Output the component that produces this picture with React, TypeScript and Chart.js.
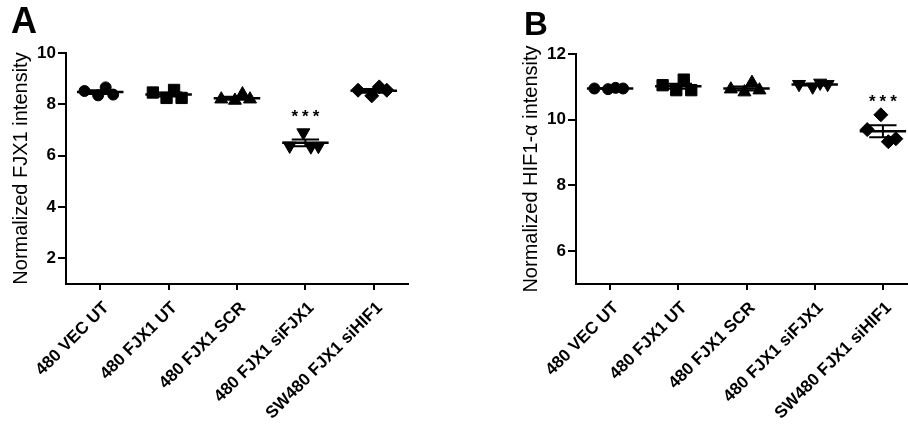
import React, { useEffect, useRef } from 'react';
import { Chart, registerables } from 'chart.js';

Chart.register(...registerables);

// ---- categories / tick labels ----
const categories = ['480 VEC UT', '480 FJX1 UT', '480 FJX1 SCR', '480 FJX1 siFJX1', 'SW480 FJX1 siHIF1'];
const yTicksA = [2, 4, 6, 8, 10];
const yTicksB = [6, 8, 10, 12];

// ---- Panel A: Normalized FJX1 intensity ----
const fjx1VecUT = [8.52, 8.35, 8.66, 8.38];
const fjx1FjxUT = [8.46, 8.25, 8.56, 8.25];
const fjx1FjxSCR = [8.2, 8.15, 8.4, 8.2];
const fjx1SiFJX1 = [6.38, 6.9, 6.35, 6.37];
const fjx1SiHIF1 = [8.55, 8.33, 8.68, 8.55];

// ---- Panel B: Normalized HIF1-α intensity ----
const hifVecUT = [10.95, 10.93, 10.97, 10.95];
const hifFjxUT = [11.05, 10.9, 11.22, 10.9];
const hifFjxSCR = [10.93, 10.84, 11.13, 10.9];
const hifSiFJX1 = [11.08, 11.0, 11.12, 11.08];
const hifSiHIF1 = [9.7, 10.15, 9.33, 9.42];

// significance marks
const sigA = { group: 3, y: 7.7, text: '***' };
const sigB = { group: 4, y: 10.69, text: '***' };

// scatter spread (per-replicate horizontal offsets, in category units)
const jitter = [-0.23, -0.03, 0.08, 0.19];

const FONT = "'Liberation Sans', Arial, Helvetica, sans-serif";
const markerStyles = ['circle', 'rect', 'triangle', 'triangle', 'rectRot'];
const markerRotation = [0, 0, 0, 180, 0];
const markerRadius = [5.5, 8, 7.5, 7.5, 7];

function mean(a: number[]) {
  return a.reduce((s, v) => s + v, 0) / a.length;
}
function sem(a: number[]) {
  const m = mean(a);
  const v = a.reduce((s, x) => s + (x - m) * (x - m), 0) / (a.length - 1);
  return Math.sqrt(v) / Math.sqrt(a.length);
}

function buildDatasets(groups: number[][]) {
  const ds: any[] = [];
  groups.forEach((vals, i) => {
    const m = mean(vals);
    const s = sem(vals);
    ds.push({
      data: vals.map((v, j) => ({ x: i + jitter[j], y: v })),
      pointStyle: markerStyles[i],
      rotation: markerRotation[i],
      pointRadius: markerRadius[i],
      backgroundColor: '#000',
      borderColor: '#000',
      borderWidth: 1,
      showLine: false,
    });
    ds.push({
      data: [
        { x: i - 0.34, y: m },
        { x: i + 0.34, y: m },
      ],
      showLine: true,
      borderColor: '#000',
      borderWidth: 2.5,
      pointRadius: 0,
    });
    ds.push({
      data: [
        { x: i - 0.2, y: m + s },
        { x: i + 0.2, y: m + s },
        { x: i, y: null },
        { x: i, y: m + s },
        { x: i, y: m - s },
        { x: i, y: null },
        { x: i - 0.2, y: m - s },
        { x: i + 0.2, y: m - s },
      ],
      showLine: true,
      spanGaps: false,
      borderColor: '#000',
      borderWidth: 2,
      pointRadius: 0,
    });
  });
  return ds;
}

const sigPlugin = {
  id: 'sigText',
  afterDatasetsDraw(chart: any, _args: any, opts: any) {
    if (!opts || !opts.text) return;
    const { ctx, scales } = chart;
    const x = scales.x.getPixelForValue(opts.group);
    const y = scales.y.getPixelForValue(opts.y);
    ctx.save();
    ctx.fillStyle = '#000';
    ctx.font = `bold 17px ${FONT}`;
    ctx.textAlign = 'center';
    ctx.textBaseline = 'alphabetic';
    try {
      ctx.letterSpacing = '4px';
    } catch (e) {
      /* ignore */
    }
    ctx.fillText(opts.text, x + 2, y + 10);
    ctx.restore();
  },
};

function makeConfig(groups: number[][], yMin: number, yMax: number, yTicks: number[], title: string, sig: any, padding: any) {
  return {
    type: 'scatter' as const,
    data: { datasets: buildDatasets(groups) },
    plugins: [sigPlugin],
    options: {
      animation: false,
      responsive: false,
      devicePixelRatio: 1,
      layout: { padding },
      plugins: {
        legend: { display: false },
        tooltip: { enabled: false },
        sigText: sig,
      },
      scales: {
        x: {
          type: 'linear',
          min: -0.5,
          max: 4.5,
          afterBuildTicks: (s: any) => {
            s.ticks = categories.map((_, i) => ({ value: i }));
          },
          afterFit: (s: any) => {
            s.height = 143;
            s.paddingLeft = 0;
            s.paddingRight = 0;
          },
          ticks: {
            color: '#000',
            font: { family: FONT, size: 17, weight: 'bold' },
            minRotation: 45,
            maxRotation: 45,
            autoSkip: false,
            padding: 8,
            labelOffset: 6,
            callback: (v: any) => categories[Math.round(v)] ?? '',
          },
          grid: { drawOnChartArea: false, color: '#000', lineWidth: 2, tickLength: 6 },
          border: { color: '#000', width: 2 },
        },
        y: {
          type: 'linear',
          min: yMin,
          max: yMax,
          afterBuildTicks: (s: any) => {
            s.ticks = yTicks.map((v) => ({ value: v }));
          },
          afterFit: (s: any) => {
            s.width = 66;
            s.paddingTop = 0;
            s.paddingBottom = 0;
          },
          ticks: {
            color: '#000',
            font: { family: FONT, size: 17, weight: 'bold' },
            padding: 2,
          },
          grid: { drawOnChartArea: false, color: '#000', lineWidth: 2, tickLength: 8 },
          border: { color: '#000', width: 2 },
          title: {
            display: true,
            text: title,
            color: '#000',
            font: { family: FONT, size: 20 },
            padding: { top: 9, bottom: 0 },
          },
        },
      },
    },
  };
}

export default function App() {
  const refA = useRef<HTMLCanvasElement>(null);
  const refB = useRef<HTMLCanvasElement>(null);

  useEffect(() => {
    const a = new Chart(
      refA.current as HTMLCanvasElement,
      makeConfig(
        [fjx1VecUT, fjx1FjxUT, fjx1FjxSCR, fjx1SiFJX1, fjx1SiHIF1],
        1,
        10,
        yTicksA,
        'Normalized FJX1 intensity',
        sigA,
        { left: 0, top: 53, right: 46, bottom: 0 }
      ) as any
    );
    const b = new Chart(
      refB.current as HTMLCanvasElement,
      makeConfig(
        [hifVecUT, hifFjxUT, hifFjxSCR, hifSiFJX1, hifSiHIF1],
        5,
        12,
        yTicksB,
        'Normalized HIF1-α intensity',
        sigB,
        { left: 56, top: 54, right: 17, bottom: 0 }
      ) as any
    );
    return () => {
      a.destroy();
      b.destroy();
    };
  }, []);

  const letter: React.CSSProperties = {
    position: 'absolute',
    fontFamily: FONT,
    fontWeight: 'bold',
    color: '#000',
    margin: 0,
  };

  return (
    <div style={{ position: 'fixed', left: 0, top: 0, width: 908, height: 427, overflow: 'hidden', background: '#fff' }}>
      <canvas ref={refA} width={454} height={427} style={{ position: 'absolute', left: 0, top: 0 }} />
      <canvas ref={refB} width={480} height={427} style={{ position: 'absolute', left: 454, top: 0 }} />
      <div style={{ ...letter, left: 11, top: 3, fontSize: 36, lineHeight: '36px' }}>A</div>
      <div style={{ ...letter, left: 524, top: 7, fontSize: 33, lineHeight: '33px' }}>B</div>
    </div>
  );
}
